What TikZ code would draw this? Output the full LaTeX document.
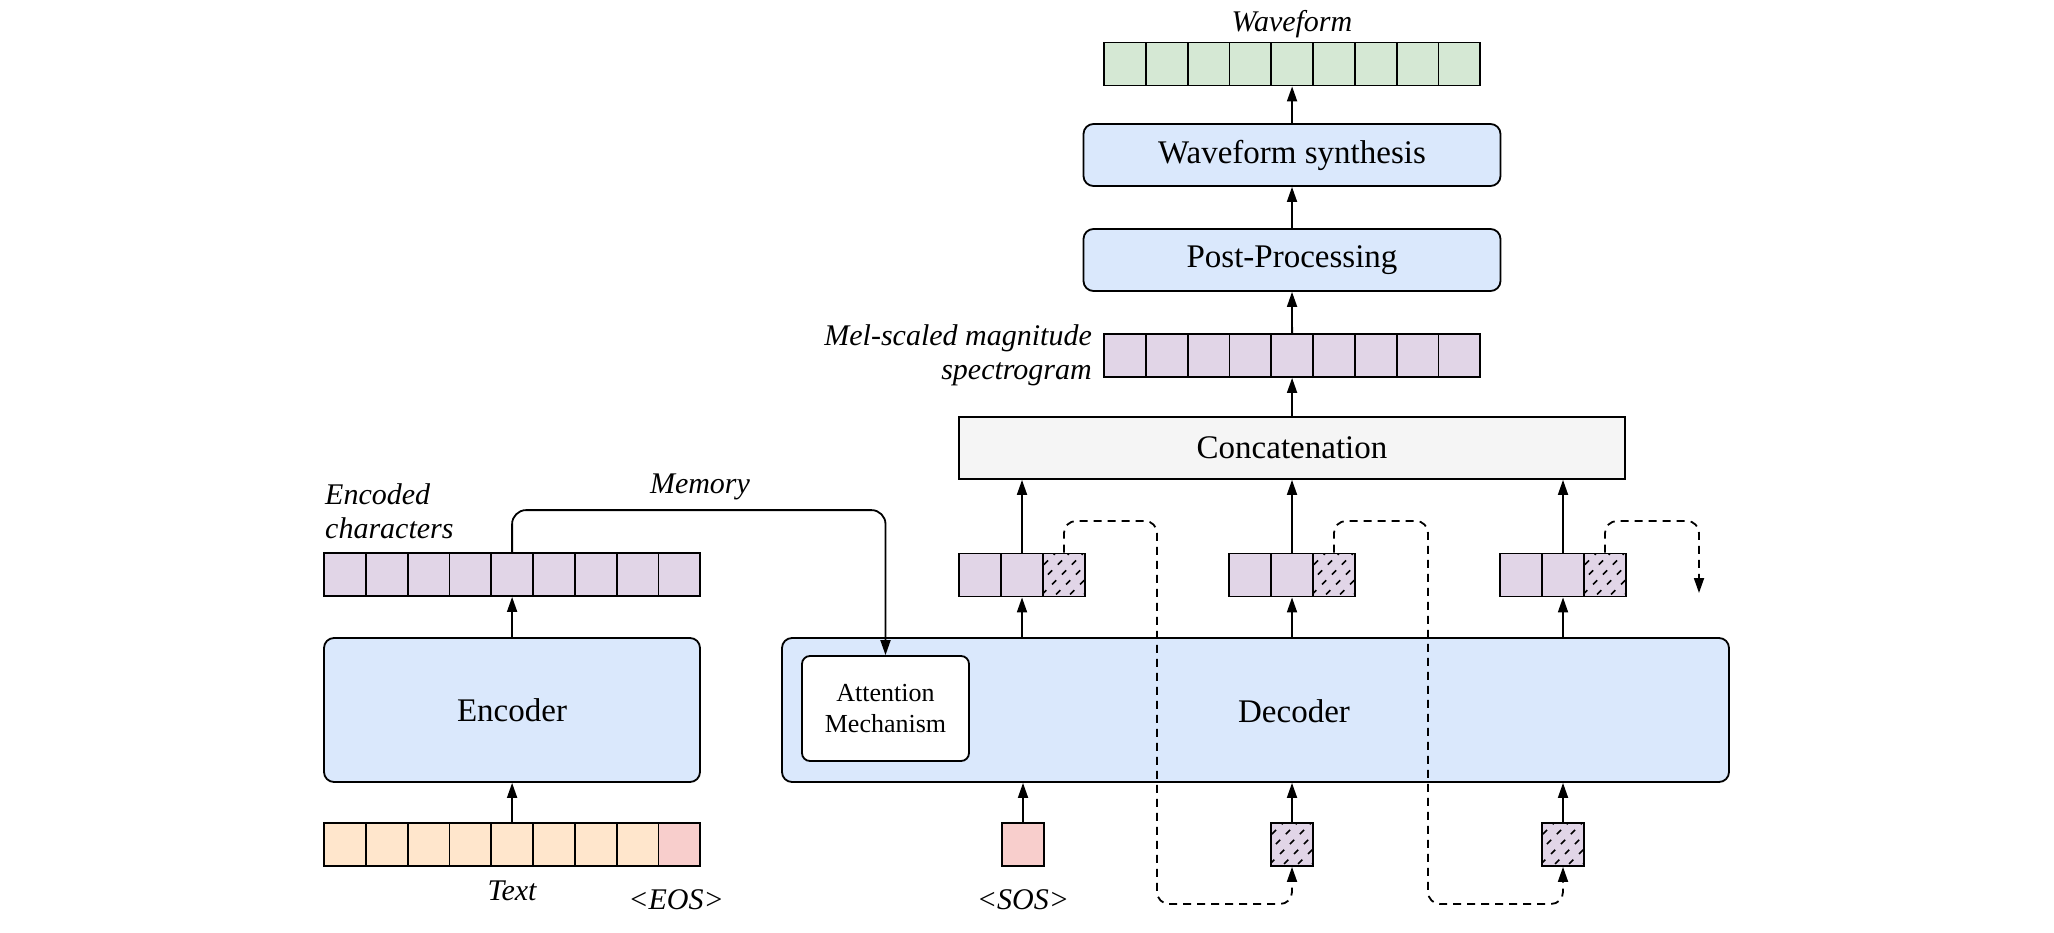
\documentclass[tikz,border=0pt]{standalone}
\usepackage{fontspec}
\setmainfont{Liberation Serif}
\usetikzlibrary{arrows.meta,calc}
\definecolor{blu}{HTML}{DAE8FC}
\definecolor{pur}{HTML}{E1D5E7}
\definecolor{grn}{HTML}{D5E8D4}
\definecolor{org}{HTML}{FFE6CC}
\definecolor{pnk}{HTML}{F8CECC}
\definecolor{gry}{HTML}{F5F5F5}
\tikzset{
 cell/.style={draw=black, line width=1.8pt, minimum width=41.8pt, minimum height=43pt, inner sep=0pt},
 block/.style={draw=black, line width=1.8pt, rounded corners=10pt, fill=blu, inner sep=0pt},
 arr/.style={line width=1.8pt, -{Triangle[length=15pt,width=10pt]}},
 dsh/.style={line width=1.8pt, dash pattern=on 8pt off 6pt, rounded corners=12pt, -{Triangle[length=15pt,width=10pt]}},
 lbl/.style={font=\fontsize{33}{38}\selectfont},
 ital/.style={font=\fontsize{30}{34}\selectfont\itshape, inner sep=0pt},
}
\newcommand\hatchit[1]{%
 \begin{scope}
 \clip ($(#1.south west)+(1.8,-1.8)$) rectangle ($(#1.north east)+(-1.8,1.8)$);
 \foreach \k in {-56,-42,...,56} \draw[line width=1.5pt, dash pattern=on 6pt off 8pt] ($(#1.south west)+(\k,-3)$) -- ++(60,-60);
 \end{scope}}
\begin{document}
\begin{tikzpicture}[x=1pt,y=-1pt]
\useasboundingbox (0,0) rectangle (2054,932);
% waveform bar
\foreach \i in {0,...,8} \node[cell, fill=grn] (wf\i) at ({1104+20.9+41.8*\i},64) {};
\node[ital] (wflbl) at (1292,24) {Waveform};
% blocks top
\node[block, minimum width=417pt, minimum height=62pt, lbl] (ws) at (1292,155) {Waveform synthesis};
\node[block, minimum width=417pt, minimum height=62pt, lbl] (pp) at (1292,260) {Post-Processing};
\foreach \i in {0,...,8} \node[cell, fill=pur] (mel\i) at ({1104+20.9+41.8*\i},355.5) {};
\node[ital, align=right, anchor=east] (mellbl) at (1092,355) {Mel-scaled magnitude\\spectrogram};
\node[draw=black, line width=1.8pt, fill=gry, minimum width=666pt, minimum height=62pt, inner sep=0pt, lbl] (cat) at (1292,448) {Concatenation};
% decoder step bars
\foreach \c/\x in {1/1022,2/1292,3/1563} {
  \node[cell, fill=pur, minimum width=42pt] (d\c a) at (\x-42,575) {};
  \node[cell, fill=pur, minimum width=42pt] (d\c b) at (\x,575) {};
  \node[cell, fill=pur, minimum width=42pt] (d\c c) at (\x+42,575) {};
  \hatchit{d\c c}
}
% encoder side
\foreach \i in {0,...,8} \node[cell, fill=pur] (ec\i) at ({324+20.9+41.8*\i},574.5) {};
\node[ital, align=left, anchor=west] (enclbl) at (325,511) {Encoded\\characters};
\node[block, minimum width=376pt, minimum height=144pt, lbl] (enc) at (512,710) {Encoder};
\foreach \i in {0,...,7} \node[cell, fill=org] (tx\i) at ({324+20.9+41.8*\i},844.5) {};
\node[cell, fill=pnk] (tx8) at ({324+20.9+41.8*8},844.5) {};
\node[ital] (txtlbl) at (512,891) {Text};
\node[ital] (eoslbl) at (676,900) {<EOS>};
% decoder
\node[block, minimum width=947pt, minimum height=144pt] (dec) at (1255.5,710) {};
\node[lbl, inner sep=0pt] (declbl) at (1294,711) {Decoder};
\node[draw=black, line width=1.8pt, rounded corners=8pt, fill=white, minimum width=167pt, minimum height=105pt, align=center, font=\fontsize{26}{31}\selectfont] (att) at (885.5,708.5) {Attention\\Mechanism};
% inputs below decoder
\node[cell, fill=pnk, minimum width=42pt] (sos) at (1023,844.5) {};
\node[ital] (soslbl) at (1023,900) {<SOS>};
\node[cell, fill=pur, minimum width=42pt] (h1) at (1292,844.5) {};
\hatchit{h1}
\node[cell, fill=pur, minimum width=42pt] (h2) at (1563,844.5) {};
\hatchit{h2}
% arrows
\draw[arr] (ws.north) -- (wf4.south);
\draw[arr] (pp.north) -- (ws.south);
\draw[arr] (mel4.north) -- (pp.south);
\draw[arr] (cat.north) -- (mel4.south);
\foreach \c in {1,2,3} {
  \draw[arr] (dec.north -| d\c b) -- (d\c b.south);
  \draw[arr] (d\c b.north) -- (cat.south -| d\c b);
}
\draw[arr] (sos.north) -- (dec.south -| sos);
\draw[arr] (h1.north) -- (dec.south -| h1);
\draw[arr] (h2.north) -- (dec.south -| h2);
\draw[arr] (tx4.north) -- (enc.south -| tx4);
\draw[arr] (enc.north -| ec4) -- (ec4.south);
\draw[arr, rounded corners=14pt] (ec4.north) -- ++(0,-42) -| (att.north);
\node[ital] (memlbl) at (700,487) {Memory};
% dashed loops
\coordinate (l1a) at (1157,521);
\coordinate (l1b) at (1157,904);
\coordinate (l2a) at (1428,521);
\coordinate (l2b) at (1428,904);
\coordinate (l3a) at (1699,521);
\coordinate (l3b) at (1699,593);
\draw[dsh] (d1c.north) |- (l1a) -- (l1b) -| (h1.south);
\draw[dsh] (d2c.north) |- (l2a) -- (l2b) -| (h2.south);
\draw[dsh] (d3c.north) |- (l3a) -- (l3b);
\end{tikzpicture}
\end{document}
